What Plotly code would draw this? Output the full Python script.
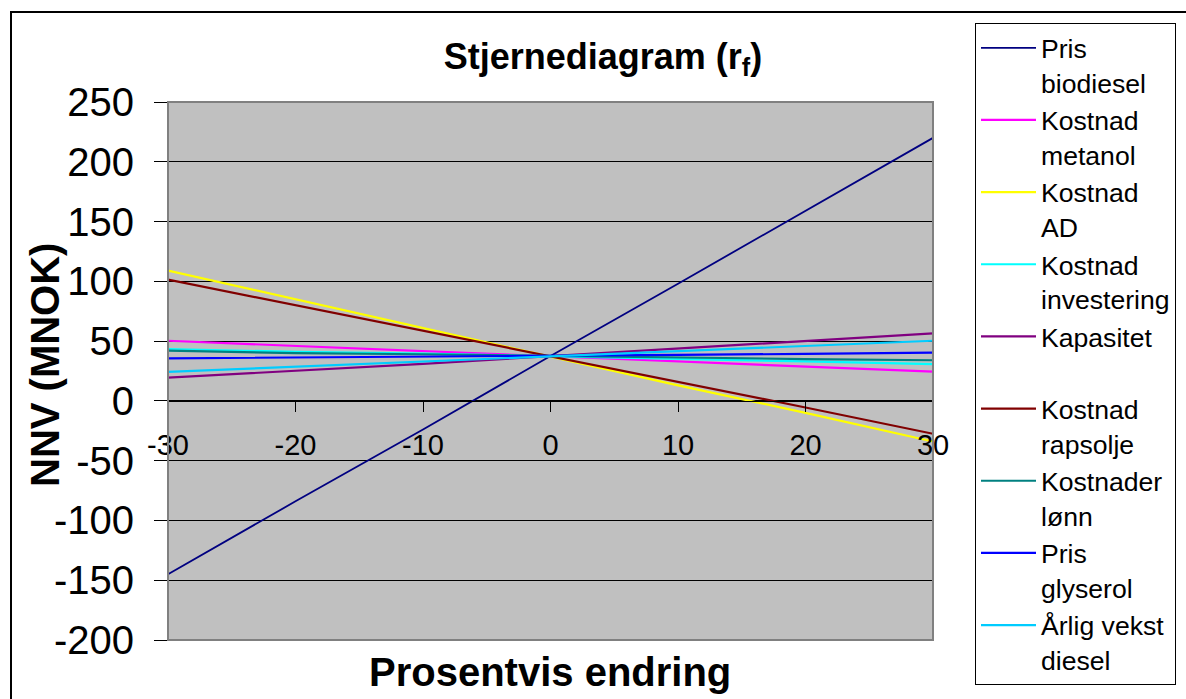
import plotly.graph_objects as go

x_vals = [-30, -20, -10, 0, 10, 20, 30]

series_names = [
    "Pris<br>biodiesel",
    "Kostnad<br>metanol",
    "Kostnad<br>AD",
    "Kostnad<br>investering",
    "Kapasitet<br>\u00a0",
    "Kostnad<br>rapsolje",
    "Kostnader<br>lønn",
    "Pris<br>glyserol",
    "Årlig vekst<br>diesel",
]

pris_biodiesel = [-145, -84, -24, 37.5, 98, 159, 220]
kostnad_metanol = [50.3, 46, 42, 37.5, 33, 29, 24.4]
kostnad_ad = [109, 85, 61, 37.5, 13, -10, -34]
kostnad_investering = [43.3, 41, 39.5, 37.5, 35, 33, 30.8]
kapasitet = [19.4, 25, 31, 37.5, 44, 50, 56.4]
kostnad_rapsolje = [101.4, 80, 59, 37.5, 16, -5.5, -27.5]
kostnader_lonn = [42, 40, 39, 37.5, 36, 35, 34]
pris_glyserol = [35.6, 36.2, 37, 37.5, 38.5, 39.3, 40.3]
arlig_vekst_diesel = [24.2, 28.5, 33, 37.5, 42, 46, 50.3]

series_values = [
    pris_biodiesel, kostnad_metanol, kostnad_ad, kostnad_investering, kapasitet,
    kostnad_rapsolje, kostnader_lonn, pris_glyserol, arlig_vekst_diesel,
]
colors = ["#000080", "#FF00FF", "#FFFF00", "#00FFFF", "#800080",
          "#800000", "#008080", "#0000FF", "#00CCFF"]
widths = [1.8, 2.2, 2.2, 2.2, 2.2, 2.2, 2.2, 2.2, 2.2]

y_ticks = [-200, -150, -100, -50, 0, 50, 100, 150, 200, 250]
x_ticks = [-30, -20, -10, 0, 10, 20, 30]

FONT = "Arial, Liberation Sans, sans-serif"

fig = go.Figure()
for name, vals, c, w in zip(series_names, series_values, colors, widths):
    fig.add_trace(go.Scatter(x=x_vals, y=vals, mode="lines", name=name,
                             line=dict(color=c, width=w)))

W, H = 1186, 699
L, R, T, B = 168, 933, 102, 640
pw, ph = R - L, B - T

def px_x(p):
    return (p - L) / pw

def px_y(p):
    return (B - p) / ph

fig.update_layout(
    width=W, height=H,
    margin=dict(l=L, r=W - R, t=T, b=H - B, pad=0, autoexpand=False),
    paper_bgcolor="white",
    plot_bgcolor="#C0C0C0",
    font=dict(family=FONT, color="black"),
    showlegend=True,
    legend=dict(
        x=px_x(975), xanchor="left",
        y=px_y(23), yanchor="top",
        maxheight=690,
        bgcolor="white", bordercolor="black", borderwidth=1,
        font=dict(size=26.6, family=FONT, color="black"),
        valign="top", tracegroupgap=0, itemwidth=55,
    ),
    xaxis=dict(
        range=[-30, 30], tickvals=x_ticks, ticktext=[str(v) for v in x_ticks],
        anchor="free", position=(0 - y_ticks[0]) / (y_ticks[-1] - y_ticks[0]),
        showline=True, linecolor="black", linewidth=1,
        ticks="outside", ticklen=10, tickcolor="black", tickwidth=1,
        showgrid=False, zeroline=False,
        tickfont=dict(size=29, family=FONT, color="black"),
        ticklabelstandoff=8,
        automargin=False,
    ),
    yaxis=dict(
        range=[-200, 250], tickvals=y_ticks, ticktext=[str(v) for v in y_ticks],
        showline=False,
        ticks="outside", ticklen=13, tickcolor="black", tickwidth=1,
        showgrid=True, gridcolor="black", gridwidth=1, zeroline=False,
        tickfont=dict(size=40, family=FONT, color="black"),
        ticklabelstandoff=12,
        automargin=False,
    ),
    title=dict(
        text="<b>Stjernediagram (r<sub>f</sub>)</b>",
        x=603 / W, xanchor="center", y=1 - 56 / H, yanchor="middle",
        font=dict(size=36, family=FONT, color="black"),
    ),
)

fig.add_annotation(
    text="<b>NNV (MNOK)</b>", textangle=-90,
    xref="paper", yref="paper", x=px_x(45), y=px_y(365),
    xanchor="center", yanchor="middle", showarrow=False,
    font=dict(size=40, family=FONT, color="black"),
)
fig.add_annotation(
    text="<b>Prosentvis endring</b>",
    xref="paper", yref="paper", x=px_x(550), y=px_y(672),
    xanchor="center", yanchor="middle", showarrow=False,
    font=dict(size=40, family=FONT, color="black"),
)

# plot area border
fig.add_shape(type="rect", xref="paper", yref="paper", x0=0, y0=0, x1=1, y1=1,
              line=dict(color="#808080", width=2), layer="above")
# outer chart border
fig.add_shape(type="rect", xref="paper", yref="paper",
              x0=px_x(11), y0=px_y(720), x1=px_x(1220), y1=px_y(12),
              line=dict(color="black", width=2), layer="above")

fig.write_html("out.html")
